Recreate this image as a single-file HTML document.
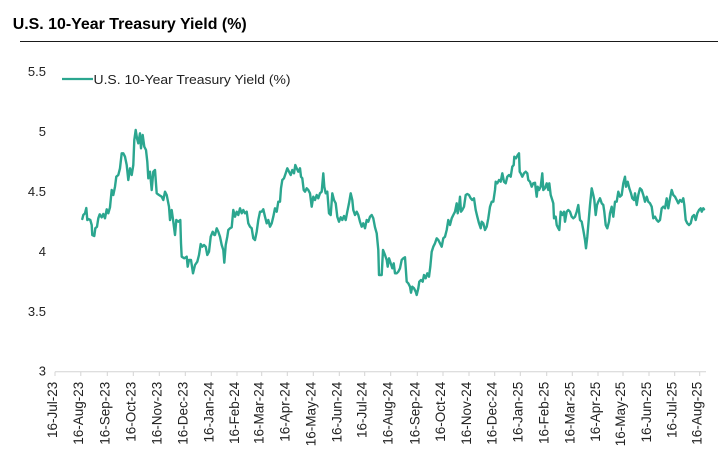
<!DOCTYPE html>
<html>
<head>
<meta charset="utf-8">
<style>
  html,body{margin:0;padding:0;background:#fff;}
  svg{display:block;}
  text{font-family:"Liberation Sans",Arial,sans-serif;}
</style>
</head>
<body>
<svg width="718" height="452" viewBox="0 0 718 452" xmlns="http://www.w3.org/2000/svg">
  <rect width="718" height="452" fill="#fff"/>
  <!-- Title -->
  <text x="12.7" y="29" font-size="16" font-weight="bold" fill="#000" textLength="234" lengthAdjust="spacingAndGlyphs">U.S. 10-Year Treasury Yield (%)</text>
  <line x1="20" y1="41.5" x2="718" y2="41.5" stroke="#1a1a1a" stroke-width="1"/>

  <!-- Y axis labels -->
  <g font-size="13" fill="#222" text-anchor="end">
    <text x="46" y="76">5.5</text>
    <text x="46" y="136">5</text>
    <text x="46" y="196">4.5</text>
    <text x="46" y="256">4</text>
    <text x="46" y="316">3.5</text>
    <text x="46" y="375.5">3</text>
  </g>

  <!-- Legend -->
  <line x1="62" y1="79" x2="93" y2="79" stroke="#2ba68f" stroke-width="2.2"/>
  <text x="93.5" y="84" font-size="13" fill="#222" textLength="197" lengthAdjust="spacingAndGlyphs">U.S. 10-Year Treasury Yield (%)</text>

  <!-- X axis -->
  <line x1="55" y1="371.7" x2="706" y2="371.7" stroke="#d4d4d4" stroke-width="1"/>
  <g stroke="#d4d4d4" stroke-width="1">
    <line x1="55" y1="371.7" x2="55" y2="376"/>
    <line x1="80.8" y1="371.7" x2="80.8" y2="376"/>
    <line x1="107.3" y1="371.7" x2="107.3" y2="376"/>
    <line x1="133.3" y1="371.7" x2="133.3" y2="376"/>
    <line x1="159.3" y1="371.7" x2="159.3" y2="376"/>
    <line x1="185.3" y1="371.7" x2="185.3" y2="376"/>
    <line x1="211.3" y1="371.7" x2="211.3" y2="376"/>
    <line x1="237" y1="371.7" x2="237" y2="376"/>
    <line x1="261.7" y1="371.7" x2="261.7" y2="376"/>
    <line x1="287.3" y1="371.7" x2="287.3" y2="376"/>
    <line x1="313.3" y1="371.7" x2="313.3" y2="376"/>
    <line x1="339.3" y1="371.7" x2="339.3" y2="376"/>
    <line x1="364.7" y1="371.7" x2="364.7" y2="376"/>
    <line x1="390.7" y1="371.7" x2="390.7" y2="376"/>
    <line x1="417.3" y1="371.7" x2="417.3" y2="376"/>
    <line x1="443" y1="371.7" x2="443" y2="376"/>
    <line x1="469" y1="371.7" x2="469" y2="376"/>
    <line x1="494.7" y1="371.7" x2="494.7" y2="376"/>
    <line x1="520.3" y1="371.7" x2="520.3" y2="376"/>
    <line x1="546.7" y1="371.7" x2="546.7" y2="376"/>
    <line x1="572.3" y1="371.7" x2="572.3" y2="376"/>
    <line x1="598" y1="371.7" x2="598" y2="376"/>
    <line x1="623" y1="371.7" x2="623" y2="376"/>
    <line x1="649" y1="371.7" x2="649" y2="376"/>
    <line x1="674.7" y1="371.7" x2="674.7" y2="376"/>
    <line x1="699.7" y1="371.7" x2="699.7" y2="376"/>
  </g>

  <!-- X labels -->
  <g font-size="13.5" fill="#222" text-anchor="end">
    <text transform="translate(57,381.7) rotate(-90)">16-Jul-23</text>
    <text transform="translate(82.8,381.7) rotate(-90)">16-Aug-23</text>
    <text transform="translate(109.3,381.7) rotate(-90)">16-Sep-23</text>
    <text transform="translate(135.3,381.7) rotate(-90)">16-Oct-23</text>
    <text transform="translate(161.3,381.7) rotate(-90)">16-Nov-23</text>
    <text transform="translate(187.3,381.7) rotate(-90)">16-Dec-23</text>
    <text transform="translate(213.3,381.7) rotate(-90)">16-Jan-24</text>
    <text transform="translate(239,381.7) rotate(-90)">16-Feb-24</text>
    <text transform="translate(263.7,381.7) rotate(-90)">16-Mar-24</text>
    <text transform="translate(289.3,381.7) rotate(-90)">16-Apr-24</text>
    <text transform="translate(315.3,381.7) rotate(-90)">16-May-24</text>
    <text transform="translate(341.3,381.7) rotate(-90)">16-Jun-24</text>
    <text transform="translate(366.7,381.7) rotate(-90)">16-Jul-24</text>
    <text transform="translate(392.7,381.7) rotate(-90)">16-Aug-24</text>
    <text transform="translate(419.3,381.7) rotate(-90)">16-Sep-24</text>
    <text transform="translate(445,381.7) rotate(-90)">16-Oct-24</text>
    <text transform="translate(471,381.7) rotate(-90)">16-Nov-24</text>
    <text transform="translate(496.7,381.7) rotate(-90)">16-Dec-24</text>
    <text transform="translate(522.3,381.7) rotate(-90)">16-Jan-25</text>
    <text transform="translate(548.7,381.7) rotate(-90)">16-Feb-25</text>
    <text transform="translate(574.3,381.7) rotate(-90)">16-Mar-25</text>
    <text transform="translate(600,381.7) rotate(-90)">16-Apr-25</text>
    <text transform="translate(625,381.7) rotate(-90)">16-May-25</text>
    <text transform="translate(651,381.7) rotate(-90)">16-Jun-25</text>
    <text transform="translate(676.7,381.7) rotate(-90)">16-Jul-25</text>
    <text transform="translate(701.7,381.7) rotate(-90)">16-Aug-25</text>
  </g>

  <!-- Series -->
  <polyline fill="none" stroke="#2ba68f" stroke-width="2.4" stroke-linejoin="round" stroke-linecap="round" points="
82.3,219 83.3,215 85,213.3 86.3,208 87.3,220 88.3,219 90.3,220 91.7,225 92.3,235 94.3,236 95.3,228.3 97,226.7 98.3,218.3 99.7,214.3 101.7,217.3 103.3,214 105,218.3 106.7,209.3 108.3,213.3 110,207.3 111.7,190 113.3,195 115,186.7 116.3,176.7 118.3,175 120,168.3 121.7,153.3 123.3,153.3 125,156.7 126.7,165 128.3,180 130,168.3 131.7,175 133.3,165 134.3,140 135.7,130 137,138.3 138.3,143.3 140,133.3 141,148.3 142.7,135 144.3,146.7 146,150 147.3,161.7 148.3,178.3 150,171.7 151.7,190 153.3,171.7 155,170 156.7,193.3 159,195 161.7,196.7 163.3,200 165,191.7 166.7,195 169,206.7 170,220 171.7,210 173.3,221.7 175,235 176.3,220 178.3,221.7 180.3,220 181,243.3 181.7,256.7 184.3,258.3 186.7,256.7 187.7,266.7 189,260 191,260 193,273.3 195,265 197.3,261.7 199,255 200.7,244 202.3,246.7 204,245 205.7,246.7 207.3,255 209,251.7 210.7,236.7 212.7,231.7 214.3,235
215,235 216.7,228.3 218.3,231.7 220,236.7 221.7,245 223.3,250 224.3,262.7 225.7,245 227.3,236.7 228.3,230 230,228.3 231.7,227.3 233.3,210 235,216.7 236.7,211.7 238.3,215 240,208.3 241.7,213.3 243.3,210 245,213.3 246.7,211.7 248.3,223.3 250,226.7 251.7,228.3 253.3,238.3 255,240 256.7,231.7 258.3,220 260,211.7 261.7,211.7 263.3,209.3 265,216.7 266.7,223.3 268.3,220 270,226.7 271.7,223.3 273.3,216.7 275,208.3 276.7,211.7 278.3,201.7 280,201.7 281,188.3 282.3,180 284,178.3 285.7,173.3 287.3,168.3 289,171.7 290.7,175 292.3,170 294,173.3 295.3,165 296.7,168.3 298.3,171.7 300,168.3 301,176.7 302.3,178.3 303.7,190 305,191.7 306.7,188.3 308.3,190 310,193.3 311.7,206.7 313.3,196.7 315,200 316.7,195 318.3,198.3 320,193.3 321.7,191.7 323.3,173.3 324.3,186.7 325.7,193.3 327.3,191.7 329,213.3 330.7,215 332.3,193.3 334,200 335.7,203.3 337.3,216.7 339,221.7 340.7,217.3 342.3,220 344,216 345.7,220 347.3,211.7 349,203.3 350.7,193.3 352.3,200 353.3,210 355,215 356.7,211.7 358.3,215 360,221.7 361.7,226.7 363.3,223.3 365,228.3 366.7,220 368.3,221.7 370,216.7 371.7,215 373.3,218.3
375,227.3 376.7,233.3 378.3,250 379,275 381.7,275 383,250 385,255 386.7,260 387.7,266.7 389,258.3 390.7,263.3 392.3,268.3 393.7,263.3 395,273.3 396.7,273.3 398.3,271.7 400,268.3 401.7,260 403.3,258.3 405,257.3 406.7,281.7 408.3,283.3 410,286.7 411,292.7 412.3,286.7 414,288.3 415.7,291.7 416.7,295 418.3,288.3 419.3,281.7 421,280 422.7,281.7 424,275 425.7,278.3 427.3,273.3 429,276.7 430.3,266.7 431.7,251.7 433.3,246.7 435,243.3 436.7,238.3 438.3,240 440,243.3 441.7,246.7 443.3,238.3 445,236.7 446.7,230 448.3,220 450,225 451.7,218.3 453.3,215 455,211.7 456.7,203.3 457.7,213.3 459,206.7 460,196.7 461,211.7 462.3,210 464,206.7 465.7,195 467.3,194 469,195 470.7,198.3 472.3,200 474,198.3 475.7,210 477.3,216.7 479,223.3 480.7,228.3 481.7,221.7 483.3,223.3 485,230 486.7,226.7 488.3,218.3 490,206.7 491.7,201.7 493.3,201.7 495,190 495.7,181.7 497.3,183.3 499,180 500.7,181.7 502.3,173.3 504,181.7 505.7,183.3 507.3,176.7 509,175 510.7,176.7 512.3,166.7 513.7,165 514.3,156.7 516,158.3 517.7,155 519,153.3 519.7,171.7 520.7,173.3 522.3,176.7 524,173.3 525.7,171.7 527.3,173.3 528.3,180 530,181.7 531.7,186.7 533.3,183.3
535,182.7 536.7,196.7 537.7,186.7 539,190 540.7,186.7 542.3,173.3 543.3,190 545,188.3 546.7,183.3 548.3,190 549.3,183.3 550.7,195 552.3,200 553.3,203.3 554,218.3 555.7,216.7 556.7,225 558.3,228.3 559.3,230 560.7,211.7 562.3,215 564,211.7 565,221.7 566.7,211.7 568.3,210 570,211.7 571.7,216.7 573.3,218.3 575,216.7 576.7,211.7 578.3,205 580,220 581.7,221.7 583.3,230 585,240 586,248.3 587.3,236.7 588.3,225 590,205 591.7,188.3 593.3,195 594.3,200 595.7,215 597,205 598.3,201.7 600,198.3 601.7,203.3 603.3,205 604.3,211.7 605.7,225 607.3,228.3 609,221.7 610,213.3 611.7,206.7 613.3,216.7 615,201.7 616.7,201.7 618.3,191.7 620,196.7 621.7,195 623.3,183.3 625,176.7 626,186.7 627.7,181.7 629.3,188.3 631,193.3 632.3,198.3 634,200 635,193.3 636.7,205 638.3,195 640,188.3 641.7,190 643.3,195 645,201.7 646.7,196.7 648.3,201.7 650,203.3 651.7,206.7 653.3,218.3 655,216.7 656.7,220 658.3,221.7 660,220 661.7,208.3 663.3,206.7 665,208.3 666.7,198.3 668.3,208.3 670,198.3 671.7,190 673.3,195 675,196.7 676.7,200 678.3,203.3 680,200 681.7,201.7 683.3,198.3 684.3,205 685.7,220 687.3,223.3 689,225 690.7,223.3 692.3,216.7 694,215 695.7,220 697.3,213.3 699,210 700.7,208.3 701.7,211.7 703.3,208.3 704,209.3"/>
</svg>
</body>
</html>
